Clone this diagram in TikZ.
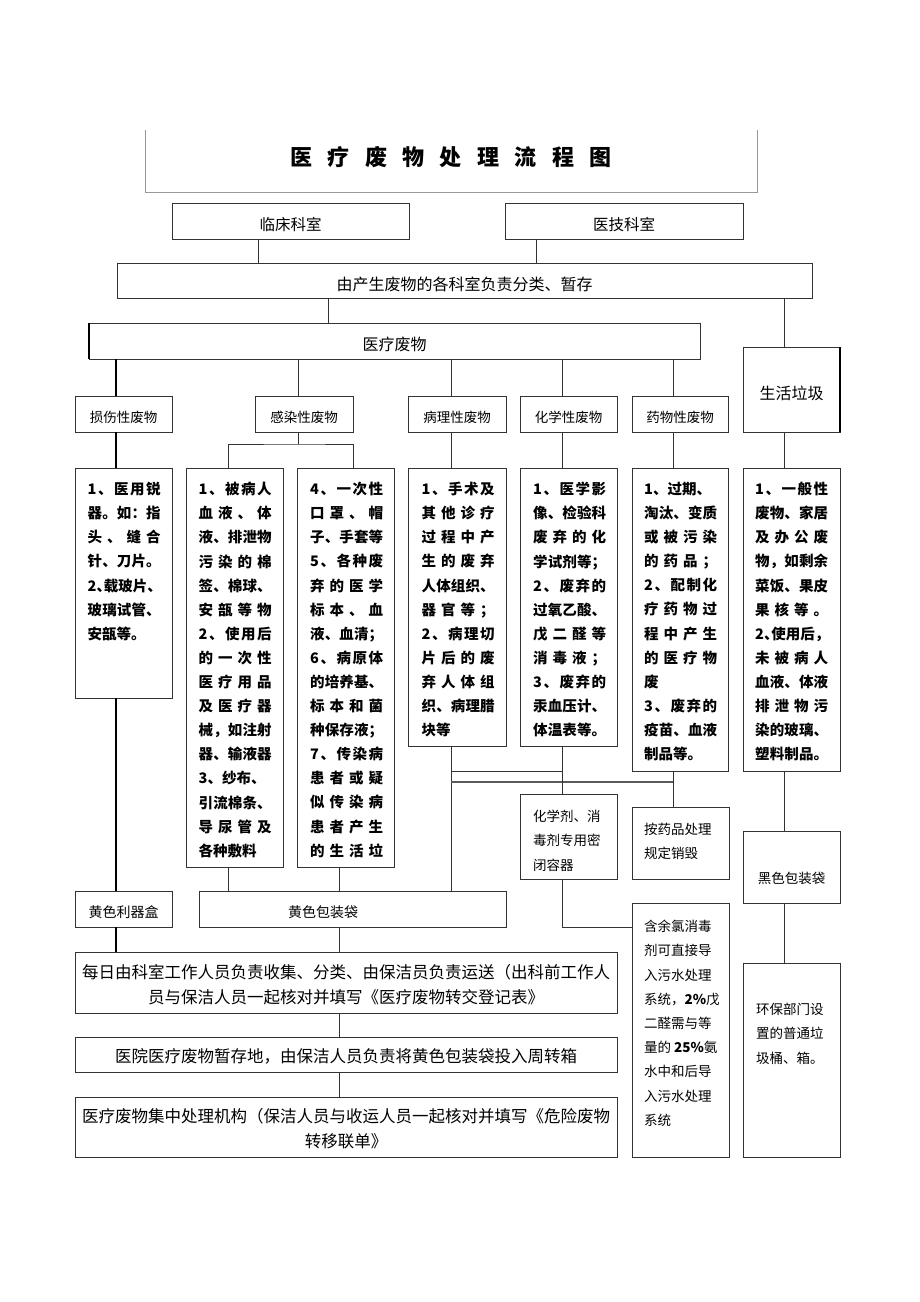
\documentclass[tikz,border=0pt]{standalone}
\usepackage{fontspec}
\setmainfont{Noto Sans CJK SC}
\def\dun{\makebox[0.5em][l]{、}}
\def\sprdE{xyzzy}
\def\sprd#1{\makebox[73pt][s]{\sprdA#1\sprdE}}
\def\sprdA#1{#1\sprdB}
\def\sprdB#1{\ifx#1\sprdE\else\hfil#1\expandafter\sprdB\fi}
\tikzset{
  box/.style={draw=black!80, line width=0.9pt, inner sep=0pt, outer sep=0pt, fill=none},
  conn/.style={draw=black!80, line width=0.9pt},
  thk/.style={draw=black, line width=2pt},
  lab/.style={font=\fontsize{15.5}{18}\selectfont, inner sep=0pt},
  clab/.style={font=\fontsize{13.5}{16}\selectfont, inner sep=0pt},
  dtext/.style={font=\bfseries\fontsize{14.5}{24.1}\selectfont, align=left, inner sep=0pt, anchor=north west},
  stext/.style={font=\fontsize{13.5}{24.2}\selectfont, align=left, inner sep=0pt, anchor=north west},
  btext/.style={font=\fontsize{16.5}{25}\selectfont, align=center, inner sep=0pt},
}
% \bx[text options]{name}{x1}{y1}{x2}{y2}{text}: box node (name) and its text node (name-t), text set a little below centre
\newcommand\bx[7][]{\node[box,minimum width={(#5)-(#3)},minimum height={(#6)-(#4)}] (#2) at ({((#3)+(#5))/2},{((#4)+(#6))/2}) {};
  \node[inner sep=0pt,#1] (#2-t) at ({((#3)+(#5))/2},{((#4)+(#6))/2+3.5}) {#7};}
\begin{document}
\begin{tikzpicture}[x=1pt,y=-1pt]
\useasboundingbox[fill=white] (0,0) rectangle (920,1302);
% title
\draw[draw=black!40, line width=0.8pt] (145,130) -- (145,192) -- (757,192) -- (757,130);
\node[font=\bfseries\fontsize{22}{26}\selectfont, inner sep=0pt] (title) at (451,157)
  {\makebox[321pt][s]{医\hfil 疗\hfil 废\hfil 物\hfil 处\hfil 理\hfil 流\hfil 程\hfil 图}};
% top boxes
\bx[lab]{lc}{172}{203}{409}{239}{临床科室}
\bx[lab]{yj}{505}{203}{743}{239}{医技科室}
\bx[font=\fontsize{16}{18}\selectfont]{fz}{117}{263}{812}{298}{由产生废物的各科室负责分类、暂存}
\bx[font=\fontsize{16}{18}\selectfont]{yl}{89}{323}{700}{359}{医疗废物}
\bx[font=\fontsize{16}{18}\selectfont]{sh}{743}{347}{840}{432}{生活垃圾}
\draw[thk] (yl.north west) -- (yl.south west);
\draw[draw=black, line width=2.2pt] (sh.north east) -- (sh.south east);
% categories
\bx[clab]{c1}{75}{396}{172}{432}{损伤性废物}
\bx[clab]{c2}{255}{396}{353}{432}{感染性废物}
\bx[clab]{c3}{408}{396}{506}{432}{病理性废物}
\bx[clab]{c4}{520}{396}{617}{432}{化学性废物}
\bx[clab]{c5}{632}{396}{728}{432}{药物性废物}
% detail boxes
\bx{d1}{75}{468}{172}{698}{}
\bx{d2}{186}{468}{283}{867}{}
\bx{d3}{297}{468}{394}{867}{}
\bx{d4}{408}{468}{506}{746}{}
\bx{d5}{520}{468}{617}{746}{}
\bx{d6}{632}{468}{728}{771}{}
\bx{d7}{743}{468}{840}{771}{}
\node[dtext] (d1t) at (87.5,482) {\sprd{1、医用锐}\\\sprd{器。如：指}\\\sprd{头、缝合}\\\sprd{针、刀片。}\\\sprd{2\dun 载玻片、}\\\sprd{玻璃试管、}\\安瓿等。};
\node[dtext] (d2t) at (198.5,482) {\sprd{1、被病人}\\\sprd{血液、体}\\\sprd{液、排泄物}\\\sprd{污染的棉}\\\sprd{签、棉球、}\\\sprd{安瓿等物}\\\sprd{2、使用后}\\\sprd{的一次性}\\\sprd{医疗用品}\\\sprd{及医疗器}\\\sprd{械，如注射}\\\sprd{器、输液器}\\3、纱布、\\\sprd{引流棉条、}\\\sprd{导尿管及}\\各种敷料};
\node[dtext] (d3t) at (310,482) {\sprd{4、一次性}\\\sprd{口罩、帽}\\\sprd{子、手套等}\\\sprd{5、各种废}\\\sprd{弃的医学}\\\sprd{标本、血}\\\sprd{液、血清；}\\\sprd{6、病原体}\\\sprd{的培养基、}\\\sprd{标本和菌}\\\sprd{种保存液；}\\\sprd{7、传染病}\\\sprd{患者或疑}\\\sprd{似传染病}\\\sprd{患者产生}\\\sprd{的生活垃}};
\node[dtext] (d4t) at (421.5,482) {\sprd{1、手术及}\\\sprd{其他诊疗}\\\sprd{过程中产}\\\sprd{生的废弃}\\\sprd{人体组织、}\\\sprd{器官等；}\\\sprd{2、病理切}\\\sprd{片后的废}\\\sprd{弃人体组}\\\sprd{织、病理腊}\\块等};
\node[dtext] (d5t) at (533,482) {\sprd{1、医学影}\\\sprd{像、检验科}\\\sprd{废弃的化}\\\sprd{学试剂等；}\\\sprd{2、废弃的}\\\sprd{过氧乙酸、}\\\sprd{戊二醛等}\\\sprd{消毒液；}\\\sprd{3、废弃的}\\\sprd{汞血压计、}\\\sprd{体温表等。}};
\node[dtext] (d6t) at (644,482) {1、过期、\\\sprd{淘汰、变质}\\\sprd{或被污染}\\\sprd{的药品；}\\\sprd{2、配制化}\\\sprd{疗药物过}\\\sprd{程中产生}\\\sprd{的医疗物}\\废\\\sprd{3、废弃的}\\\sprd{疫苗、血液}\\制品等。};
\node[dtext] (d7t) at (755,482) {\sprd{1、一般性}\\\sprd{废物、家居}\\\sprd{及办公废}\\\sprd{物，如剩余}\\\sprd{菜饭、果皮}\\\sprd{果核等。}\\\sprd{2\dun 使用后，}\\\sprd{未被病人}\\\sprd{血液、体液}\\\sprd{排泄物污}\\\sprd{染的玻璃、}\\\sprd{塑料制品。}};
% lower right boxes
\bx{hx}{520}{794}{617}{879}{}
\bx{ay}{632}{807}{729}{879}{}
\bx{hb}{743}{831}{840}{903}{}
\bx{yc}{632}{903}{729}{1157}{}
\bx{hbk}{743}{963}{840}{1157}{}
\node[stext] (hxt) at (533,810) {化学剂、消\\毒剂专用密\\闭容器};
\node[stext] (ayt) at (644,823) {按药品处理\\规定销毁};
\node[clab] (hbt) at (791.5,878) {黑色包装袋};
\node[stext] (yct) at (644,920) {含余氯消毒\\剂可直接导\\入污水处理\\系统，{\bfseries 2\%}戊\\二醛需与等\\量的 {\bfseries 25\%}氨\\水中和后导\\入污水处理\\系统};
\node[stext] (hbkt) at (756,1003) {环保部门设\\置的普通垃\\圾桶、箱。};
% lower left boxes
\bx[font=\fontsize{14}{16}\selectfont]{lq}{75}{891}{172}{927}{黄色利器盒}
\bx{bz}{199}{891}{506}{927}{}
\node[font=\fontsize{14}{16}\selectfont, inner sep=0pt] (bzt) at (323,912.5) {黄色包装袋};
\bx{mr}{75}{952}{617}{1013}{}
\bx{yy}{75}{1037}{617}{1072}{}
\bx{jz}{75}{1097}{617}{1157}{}
\node[btext] (mrt) at (346,984.5) {每日由科室工作人员负责收集、分类、由保洁员负责运送（出科前工作人\\员与保洁人员一起核对并填写《医疗废物转交登记表》};
\node[btext] (yyt) at (346,1056) {医院医疗废物暂存地，由保洁人员负责将黄色包装袋投入周转箱};
\node[btext] (jzt) at (346,1129) {医疗废物集中处理机构（保洁人员与收运人员一起核对并填写《危险废物\\转移联单》};
% connectors
\draw[conn] (258,0 |- lc.south) -- (258,0 |- fz.north);
\draw[conn] (536,0 |- yj.south) -- (536,0 |- fz.north);
\draw[conn] (328,0 |- fz.south) -- (328,0 |- yl.north);
\draw[conn] (784,0 |- fz.south) -- (784,0 |- sh.north);
\draw[thk] (116,0 |- yl.south) -- (116,0 |- c1.north);
\draw[thk] (116,0 |- c1.south) -- (116,0 |- d1.north);
\draw[conn] (298,0 |- yl.south) -- (298,0 |- c2.north);
\draw[conn] (451,0 |- yl.south) -- (451,0 |- c3.north);
\draw[conn] (562,0 |- yl.south) -- (562,0 |- c4.north);
\draw[conn] (673,0 |- yl.south) -- (673,0 |- c5.north);
\coordinate (split) at (298,444);
\draw[conn] (298,0 |- c2.south) -- (split);
\draw[conn] (228,0 |- d2.north) |- (split) -| (353,0 |- d3.north);
\draw[conn] (451,0 |- c3.south) -- (451,0 |- d4.north);
\draw[conn] (562,0 |- c4.south) -- (562,0 |- d5.north);
\draw[conn] (673,0 |- c5.south) -- (673,0 |- d6.north);
\draw[conn] (784,0 |- sh.south) -- (784,0 |- d7.north);
\draw[thk] (116,0 |- d1.south) -- (116,0 |- lq.north);
\draw[conn] (228,0 |- d2.south) -- (228,0 |- bz.north);
\draw[conn] (339,0 |- d3.south) -- (339,0 |- bz.north);
\draw[conn] (451,0 |- d4.south) -- (451,0 |- bz.north);
\coordinate (j1) at (451,771);
\coordinate (j2) at (451,782);
\draw[conn] (j1) -- (562,0 |- j1);
\draw[conn, line width=1.4pt, draw=black!65] (j2) -- (673,0 |- j2);
\draw[conn] (562,0 |- d5.south) -- (562,0 |- hx.north);
\draw[conn] (673,0 |- d6.south) -- (673,0 |- ay.north);
\draw[conn] (562,0 |- hx.south) |- (yc.west |- 0,927);
\draw[conn] (784,0 |- d7.south) -- (784,0 |- hb.north);
\draw[conn] (784,0 |- hb.south) -- (784,0 |- hbk.north);
\draw[thk] (116,0 |- lq.south) -- (116,0 |- mr.north);
\draw[conn] (339,0 |- bz.south) -- (339,0 |- mr.north);
\draw[conn] (339,0 |- mr.south) -- (339,0 |- yy.north);
\draw[conn] (339,0 |- yy.south) -- (339,0 |- jz.north);
\end{tikzpicture}
\end{document}
